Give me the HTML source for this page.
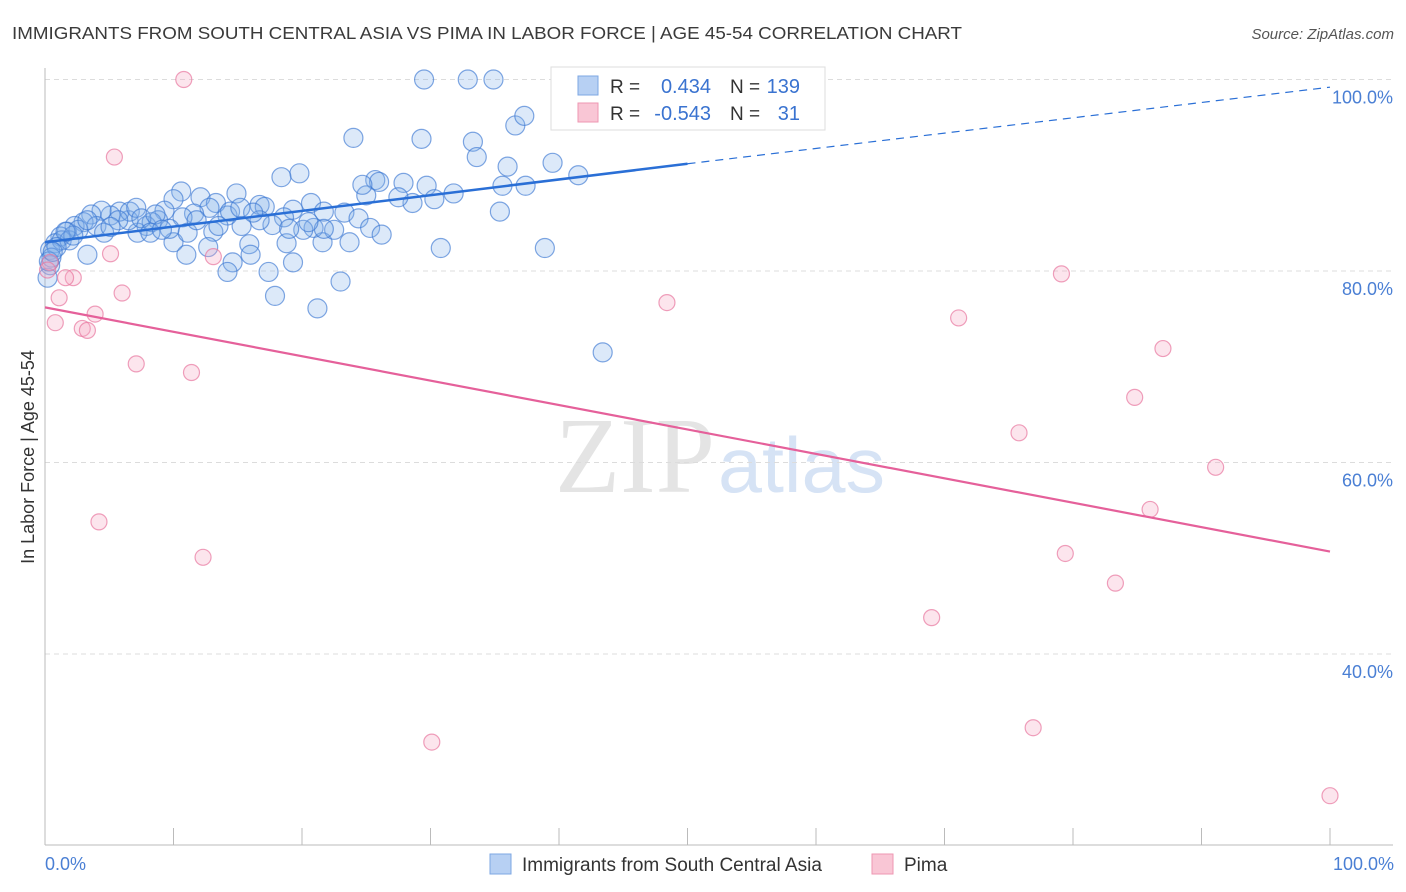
<!DOCTYPE html>
<html><head><meta charset="utf-8"><style>
body{margin:0;background:#fff;font-family:"Liberation Sans",sans-serif;}
svg{display:block}
</style></head><body>
<svg id="c" width="1406" height="892">
<text x="12" y="39" font-size="17.5" fill="#3a3a3a" textLength="950" lengthAdjust="spacingAndGlyphs">IMMIGRANTS FROM SOUTH CENTRAL ASIA VS PIMA IN LABOR FORCE | AGE 45-54 CORRELATION CHART</text>
<text x="1394" y="39" font-size="15" fill="#555" font-style="italic" text-anchor="end">Source: ZipAtlas.com</text>
<text x="555" y="492" font-size="108" fill="#e4e4e4" textLength="160" lengthAdjust="spacingAndGlyphs" font-family="Liberation Serif,serif">ZIP</text>
<text x="718" y="492" font-size="78" fill="#d6e3f5" textLength="167" lengthAdjust="spacingAndGlyphs">atlas</text>
<g id="grid"></g><g id="axes"></g><g id="pts"></g><g id="lines"></g>
<text transform="translate(34,457) rotate(-90)" font-size="18" fill="#333" text-anchor="middle">In Labor Force | Age 45-54</text>
<text x="45" y="870" font-size="18" fill="#4a7fd4">0.0%</text>
<text x="1394" y="870" font-size="18" fill="#4a7fd4" text-anchor="end">100.0%</text>
<g>
<rect x="551" y="67" width="274" height="63" fill="#fff" stroke="#ddd"/>
<rect x="578" y="76" width="20" height="19" fill="#b7d0f3" stroke="#7da7e3"/>
<rect x="578" y="103" width="20" height="19" fill="#f9c6d5" stroke="#ee97b2"/>
<text x="610" y="93" font-size="19" fill="#333">R =</text><text x="711" y="93" font-size="20" fill="#3a73d0" text-anchor="end">0.434</text>
<text x="730" y="93" font-size="19" fill="#333">N =</text><text x="800" y="93" font-size="20" fill="#3a73d0" text-anchor="end">139</text>
<text x="610" y="120" font-size="19" fill="#333">R =</text><text x="711" y="120" font-size="20" fill="#3a73d0" text-anchor="end">-0.543</text>
<text x="730" y="120" font-size="19" fill="#333">N =</text><text x="800" y="120" font-size="20" fill="#3a73d0" text-anchor="end">31</text>
</g>
<g>
<rect x="490" y="854" width="21" height="20" fill="#b7d0f3" stroke="#7da7e3"/>
<text x="522" y="871" font-size="19" fill="#333">Immigrants from South Central Asia</text>
<rect x="872" y="854" width="21" height="20" fill="#f9c6d5" stroke="#ee97b2"/>
<text x="904" y="871" font-size="19" fill="#333">Pima</text>
</g>
</svg>
<script>
const yTicks=[100,80,60,40];
const yTickLabels=["100.0%","80.0%","60.0%","40.0%"];
const xTicks=[10,20,30,40,50,60,70,80,90,100];
const blueX=[29.5,32.9,34.9,36.6,37.3,24.0,29.3,33.3,33.6,36.0,39.5,19.8,18.4,25.7,26.0,27.9,29.7,41.5,37.4,35.6,31.8,30.3,28.6,27.5,25.0,24.7,10.6,14.9,12.1,10.0,13.3,20.7,16.7,17.1,19.3,21.7,23.3,24.4,25.3,26.2,23.7,21.6,22.5,20.9,20.1,18.6,17.7,16.7,15.3,14.2,12.8,11.6,10.7,9.3,8.8,7.9,7.2,6.5,5.8,5.1,4.4,3.6,3.0,2.3,1.7,1.2,0.8,0.4,0.4,0.2,1.3,1.9,3.3,10.0,11.0,13.1,11.1,12.7,14.6,14.2,15.9,16.0,17.4,17.9,19.3,18.8,21.2,23.0,30.8,38.9,43.4,35.4,8.3,9.7,11.8,13.5,14.4,15.2,16.2,4.0,4.6,6.6,7.1,7.5,8.6,2.6,2.2,1.6,0.9,0.5,21.7,20.5,19.0,8.2,9.1,5.7,5.1,3.3,0.3,0.6];
const blueY=[100,100,100,95.2,96.2,93.9,93.8,93.5,91.9,90.9,91.3,90.2,89.8,89.5,89.3,89.2,88.9,90.0,88.9,88.9,88.1,87.5,87.1,87.7,87.9,89.0,88.3,88.1,87.7,87.5,87.1,87.1,86.9,86.7,86.4,86.2,86.1,85.5,84.5,83.8,83.0,83.0,84.3,84.5,84.3,85.6,84.8,85.3,84.7,85.8,86.6,86.0,85.6,86.3,85.3,84.7,84.0,85.3,86.2,85.8,86.3,85.9,85.1,84.7,84.1,83.6,82.9,82.2,80.6,79.3,83.2,83.2,81.7,83.0,81.7,84.1,84.0,82.5,80.9,79.9,82.8,81.7,79.9,77.4,80.9,82.9,76.1,78.9,82.4,82.4,71.5,86.2,85.1,84.4,85.3,84.7,86.2,86.6,86.1,84.7,84.0,86.2,86.6,85.5,85.9,84.3,83.7,84.1,82.5,81.4,84.4,85.1,84.4,84.0,84.3,85.3,84.6,85.3,81.0,82.0];
const pinkX=[10.8,5.4,5.1,6.0,1.1,0.8,2.2,1.6,3.9,2.9,3.3,7.1,11.4,13.1,4.2,12.3,30.1,48.4,71.1,79.1,87.0,84.8,75.8,91.1,86.0,79.4,83.3,69.0,76.9,100,0.4,0.2];
const pinkY=[100,91.9,81.8,77.7,77.2,74.6,79.3,79.3,75.5,74.0,73.8,70.3,69.4,81.5,53.8,50.1,30.8,76.7,75.1,79.7,71.9,66.8,63.1,59.5,55.1,50.5,47.4,43.8,32.3,25.2,80.9,80.1];
const blueTrend=[83.0,91.2,99.2];
const pinkTrend=[76.2,50.7];
const NS="http://www.w3.org/2000/svg";
const sx=v=>45+v*12.85, sy=v=>79.5+(100-v)*9.575;
function mk(tag,attrs,parent){const e=document.createElementNS(NS,tag);for(const k in attrs)e.setAttribute(k,attrs[k]);document.getElementById(parent).appendChild(e);return e;}
yTicks.forEach((t,i)=>{
 const g=mk('line',{x1:45,x2:1393,y1:sy(t),y2:sy(t),stroke:'#dcdcdc','stroke-dasharray':'5,4'},'grid');
 
 
 const l=mk('text',{x:1393,y:sy(t)+24,'font-size':18,fill:'#4a7fd4','text-anchor':'end'},'grid');
 l.textContent=yTickLabels[i];
 
 
});
const ya=mk('line',{x1:45,x2:45,y1:68,y2:845,stroke:'#bbb'},'axes');


const xa=mk('line',{x1:45,x2:1393,y1:845,y2:845,stroke:'#bbb'},'axes');


xTicks.forEach(t=>{
 const k=mk('line',{x1:sx(t),x2:sx(t),y1:828,y2:845,stroke:'#bbb'},'axes');
 
 
});
blueX.forEach((x,i)=>{
 const c=mk('circle',{cx:sx(x),cy:sy(blueY[i]),r:9.5,fill:'rgba(130,175,235,0.28)',stroke:'rgba(60,120,210,0.65)','stroke-width':1.2},'pts');
 
 
});
pinkX.forEach((x,i)=>{
 const c=mk('circle',{cx:sx(x),cy:sy(pinkY[i]),r:8,fill:'rgba(245,170,195,0.3)',stroke:'rgba(232,120,160,0.7)','stroke-width':1.2},'pts');
 
 
});
const bl=mk('line',{x1:sx(0),y1:sy(blueTrend[0]),x2:sx(50),y2:sy(blueTrend[1]),stroke:'#2a6fd6','stroke-width':2.5},'lines');


const bd=mk('line',{x1:sx(50),y1:sy(blueTrend[1]),x2:sx(100),y2:sy(blueTrend[2]),stroke:'#2a6fd6','stroke-width':1.2,'stroke-dasharray':'8,6'},'lines');


const pl=mk('line',{x1:sx(0),y1:sy(pinkTrend[0]),x2:sx(100),y2:sy(pinkTrend[1]),stroke:'#e5609a','stroke-width':2.2},'lines');


</script>
</body></html>
